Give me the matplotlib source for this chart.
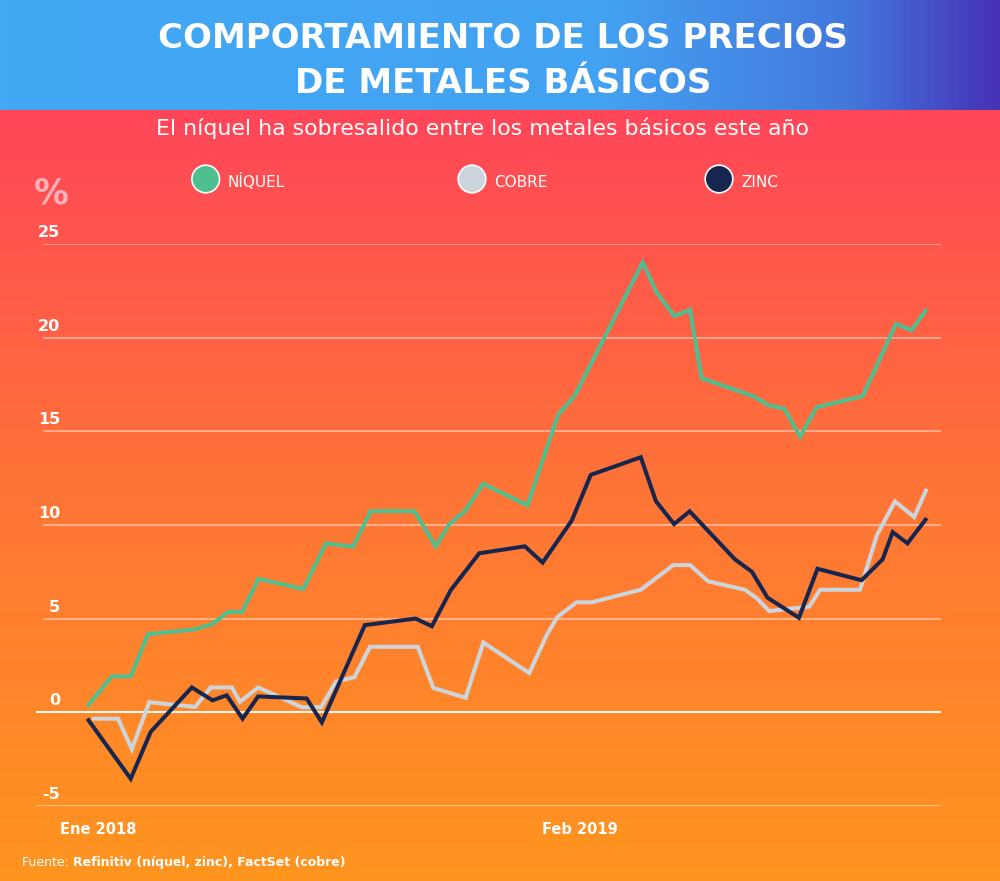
import numpy as np
import matplotlib
matplotlib.use("Agg")
import matplotlib.pyplot as plt
from matplotlib.colors import LinearSegmentedColormap
from matplotlib.patches import Circle

# ---------------- data (months since Jan 2018, % change) ----------------
niquel_x = [-0.30, 0.36, 0.87, 1.34, 2.56, 3.06, 3.50, 3.88, 4.32, 5.53, 6.14, 6.87, 7.35,
            8.53, 9.10, 9.47, 9.89, 10.39, 11.58, 12.41, 12.86, 14.69, 15.07, 15.55, 15.97,
            16.28, 17.68, 18.08, 18.52, 18.94, 19.39, 20.63, 21.53, 21.95, 22.36]
niquel_y = [0.31, 1.91, 1.91, 4.17, 4.41, 4.69, 5.36, 5.36, 7.12, 6.58, 9.02, 8.84, 10.74,
            10.74, 8.86, 10.04, 10.74, 12.2, 11.05, 15.9, 16.92, 24.03, 22.42, 21.16, 21.5,
            17.85, 16.88, 16.41, 16.21, 14.72, 16.3, 16.88, 20.75, 20.4, 21.54]

cobre_x = [-0.18, 0.53, 0.90, 1.37, 2.61, 3.03, 3.60, 3.82, 4.31, 5.49, 6.01, 6.41, 6.91,
           7.33, 8.62, 9.04, 9.91, 10.39, 11.63, 12.10, 12.39, 12.91, 13.32, 14.64, 15.52,
           15.97, 16.46, 17.45, 17.77, 18.11, 19.19, 19.48, 20.56, 21.01, 21.50, 22.02, 22.36]
cobre_y = [-0.35, -0.35, -1.98, 0.53, 0.28, 1.32, 1.32, 0.55, 1.32, 0.26, 0.26, 1.63, 1.87,
           3.49, 3.49, 1.29, 0.77, 3.72, 2.09, 4.12, 5.09, 5.87, 5.87, 6.54, 7.86,
           7.86, 6.99, 6.54, 6.09, 5.4, 5.64, 6.54, 6.54, 9.44, 11.26, 10.43, 11.93]

zinc_x = [-0.30, 0.87, 1.41, 2.52, 3.08, 3.46, 3.89, 4.31, 5.62, 6.03, 7.19, 8.56, 9.00,
          9.51, 10.28, 11.51, 11.99, 12.78, 13.29, 14.64, 15.05, 15.54, 15.96, 17.18, 17.64,
          18.06, 18.91, 19.41, 20.60, 21.17, 21.44, 21.84, 22.36]
zinc_y = [-0.35, -3.56, -1.05, 1.32, 0.63, 0.9, -0.35, 0.84, 0.73, -0.55, 4.65, 5.0, 4.59,
          6.52, 8.49, 8.86, 7.99, 10.25, 12.68, 13.62, 11.27, 10.05, 10.73, 8.17, 7.5,
          6.12, 5.04, 7.66, 7.05, 8.17, 9.62, 9.02, 10.37]

y_ticks = [25, 20, 15, 10, 5, 0, -5]
x_tick_pos = [0, 13]
x_tick_labels = ["Ene 2018", "Feb 2019"]
series_names = ["NÍQUEL", "COBRE", "ZINC"]

title = "COMPORTAMIENTO DE LOS PRECIOS\nDE METALES BÁSICOS"
subtitle = "El níquel ha sobresalido entre los metales básicos este año"
source_a = "Fuente: "
source_b = "Refinitiv (níquel, zinc), FactSet (cobre)"

# ---------------- styling ----------------
C_NIQ = "#4FBF8F"
C_COB = "#CDD5DC"
C_ZINC = "#16264F"

W, H = 1000, 881
fig = plt.figure(figsize=(W / 100, H / 100), dpi=100)

# background
bg = fig.add_axes([0, 0, 1, 1])
body_cmap = LinearSegmentedColormap.from_list(
    "body", [(0, "#FF4659"), (0.5, "#FF7536"), (1, "#FF951F")])
head_cmap = LinearSegmentedColormap.from_list(
    "head", [(0, "#41A9F5"), (0.6, "#43A2F2"), (0.85, "#4478DD"), (1, "#4632B5")])
bg.imshow(np.linspace(0, 1, 256).reshape(-1, 1), cmap=body_cmap,
          extent=[0, W, H, 110], aspect="auto")
bg.imshow(np.linspace(0, 1, 256).reshape(1, -1), cmap=head_cmap,
          extent=[0, W, 110, 0], aspect="auto")
bg.set_xlim(0, W)
bg.set_ylim(H, 0)
bg.axis("off")

# title / subtitle
t1, t2 = title.split("\n")
bg.text(503, 48, t1, ha="center", va="baseline", fontsize=24.5, fontweight="bold", color="white")
bg.text(503, 93, t2, ha="center", va="baseline", fontsize=24.5, fontweight="bold", color="white")
bg.text(483, 135, subtitle, ha="center", va="baseline", fontsize=15.8, color="white")

# percent sign
bg.text(51, 204, "%", ha="center", va="baseline", fontsize=25, fontweight="bold",
        color="#FFB0B8")

# legend
leg_cx = [205.7, 472, 719]
for cx, col, name in zip(leg_cx, [C_NIQ, C_COB, C_ZINC], series_names):
    bg.add_patch(Circle((cx, 179), 13.8, facecolor=col, edgecolor="white", lw=1.2, zorder=3))
    bg.text(cx + 22, 187, name, ha="left", va="baseline", fontsize=11,
            color="white")

# source
ta = bg.text(22, 866, source_a, ha="left", va="baseline", fontsize=9, color="white")
fig.canvas.draw()
bb = ta.get_window_extent()
bg.text(22 + bb.width, 866, source_b, ha="left", va="baseline", fontsize=9,
        color="white", fontweight="bold")

# chart axes
top_px, bot_px = 244.3, 805.7
left_px, right_px = 36, 941
ax = fig.add_axes([left_px / W, (H - bot_px) / H, (right_px - left_px) / W, (bot_px - top_px) / H])
ax.set_ylim(-5, 25)
ax.set_xlim(-1.687, 22.745)
ax.patch.set_alpha(0)
for s in ax.spines.values():
    s.set_visible(False)
ax.set_xticks([])
ax.set_yticks([])

gx0 = (44 - left_px) / (right_px - left_px)
for v in y_ticks:
    if v == 0:
        ax.axhline(v, xmin=0, xmax=1, color="white", lw=1.5, alpha=0.95, zorder=1)
    elif v == -5:
        ax.axhline(v, xmin=0, xmax=1, color="white", lw=1.2, alpha=0.5, zorder=1)
    else:
        ax.axhline(v, xmin=gx0, xmax=1, color="white", lw=1.2, alpha=0.5, zorder=1)
    ax.annotate(str(v), xy=((60 - left_px) / (right_px - left_px), v),
                xycoords=ax.get_yaxis_transform(), xytext=(0, 7 * 0.72),
                textcoords="offset points", ha="right", va="baseline",
                fontsize=11.5, fontweight="bold", color="white")

for xp, lab in zip(x_tick_pos, x_tick_labels):
    ax.annotate(lab, xy=(xp, -5), xycoords="data", xytext=(0, -28.5 * 0.72),
                textcoords="offset points", ha="center", va="baseline",
                fontsize=10.5, fontweight="bold", color="white")

kw = dict(lw=2.9, solid_joinstyle="miter", solid_capstyle="butt", clip_on=False)
ax.plot(niquel_x, niquel_y, color=C_NIQ, zorder=3, **kw)
ax.plot(cobre_x, cobre_y, color=C_COB, zorder=4, **kw)
ax.plot(zinc_x, zinc_y, color=C_ZINC, zorder=5, **kw)

fig.savefig("out.png", dpi=100)
